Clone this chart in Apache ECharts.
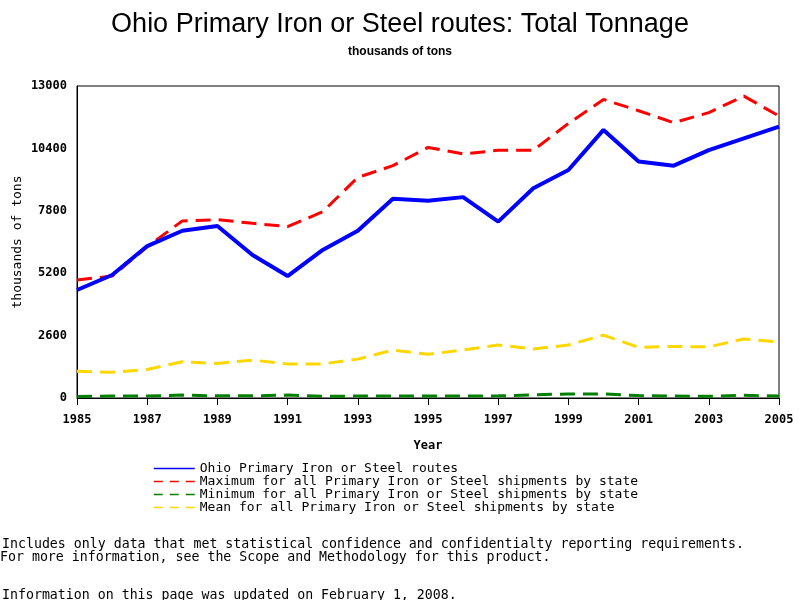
<!DOCTYPE html>
<html>
<head>
<meta charset="utf-8">
<script src="https://cdn.jsdelivr.net/npm/echarts@6/dist/echarts.min.js"></script>
<style>
html,body{margin:0;padding:0;background:#fff;}
#chart{width:800px;height:600px;}
</style>
</head>
<body>
<div id="chart"></div>
<script>
const years = ['1985','1986','1987','1988','1989','1990','1991','1992','1993','1994','1995','1996','1997','1998','1999','2000','2001','2002','2003','2004','2005'];
const ohio = [4500,5125,6330,6970,7170,5960,5080,6170,6970,8300,8220,8370,7350,8740,9500,11170,9850,9680,10330,10820,11310];
const maxState = [4920,5080,6300,7380,7430,7280,7140,7760,9190,9680,10440,10170,10320,10320,11440,12440,11970,11470,11890,12580,11750];
const minState = [60,80,80,120,90,90,120,70,80,80,80,80,90,130,170,170,100,80,70,110,80];
const meanState = [1110,1070,1190,1510,1440,1580,1420,1420,1620,2000,1820,2000,2210,2040,2210,2620,2110,2150,2130,2460,2330];

const names = [
  'Ohio Primary Iron or Steel routes',
  'Maximum for all Primary Iron or Steel shipments by state',
  'Minimum for all Primary Iron or Steel shipments by state',
  'Mean for all Primary Iron or Steel shipments by state'
];
const mono = '"DejaVu Sans Mono", "Liberation Mono", monospace';

const chart = echarts.init(document.getElementById('chart'));
chart.setOption({
  animation: false,
  backgroundColor: '#fff',
  title: [
    {text: 'Ohio Primary Iron or Steel routes: Total Tonnage', left: 'center', top: 6,
     textStyle: {fontFamily: '"Liberation Sans", Arial, sans-serif', fontSize: 27, fontWeight: 'normal', color: '#000'}},
    {text: 'thousands of tons', left: 'center', top: 41,
     textStyle: {fontFamily: '"Liberation Sans", Arial, sans-serif', fontSize: 12, fontWeight: 'bold', color: '#000'}}
  ],
  grid: {left: 77, right: 21, top: 86, bottom: 202, show: true, borderColor: '#000', borderWidth: 1, backgroundColor: 'transparent'},
  xAxis: {
    type: 'category', data: years, boundaryGap: false,
    name: 'Year', nameLocation: 'middle', nameGap: 42,
    nameTextStyle: {fontFamily: mono, fontSize: 12, fontWeight: 'bold', color: '#000'},
    axisLine: {lineStyle: {color: '#000', width: 1}},
    axisTick: {interval: 1, length: 7, lineStyle: {color: '#000'}},
    axisLabel: {interval: 1, margin: 16, fontFamily: mono, fontSize: 12, fontWeight: 'bold', color: '#000'},
    splitLine: {show: false}
  },
  yAxis: {
    type: 'value', min: 0, max: 13000, interval: 2600,
    name: 'thousands of tons', nameLocation: 'middle', nameGap: 53, nameMoveOverlap: false,
    nameTextStyle: {fontFamily: mono, fontSize: 13, color: '#000'},
    axisLine: {show: true, lineStyle: {color: '#000', width: 1}},
    axisTick: {show: false},
    axisLabel: {margin: 10, fontFamily: mono, fontSize: 12, fontWeight: 'bold', color: '#000',
      formatter: function (v) { return String(v); }},
    splitLine: {show: false}
  },
  legend: {
    orient: 'vertical', left: 153, top: 462, padding: 0, itemWidth: 41, itemHeight: 13, itemGap: 0,
    data: [
      {name: names[0], itemStyle: {color: 'rgba(0,0,0,0)', borderWidth: 0}, lineStyle: {width: 1.5, type: 'solid', color: '#0000FF', opacity: 1}},
      {name: names[1], itemStyle: {color: 'rgba(0,0,0,0)', borderWidth: 0}, lineStyle: {width: 1.5, type: [9,7], color: '#FF0000', opacity: 1}},
      {name: names[2], itemStyle: {color: 'rgba(0,0,0,0)', borderWidth: 0}, lineStyle: {width: 1.5, type: [9,7], color: '#008000', opacity: 1}},
      {name: names[3], itemStyle: {color: 'rgba(0,0,0,0)', borderWidth: 0}, lineStyle: {width: 1.5, type: [9,7], color: '#FFD700', opacity: 1}}
    ],
    textStyle: {fontFamily: mono, fontSize: 13, color: '#000'}
  },
  series: [
    {name: names[1], type: 'line', data: maxState, symbol: 'none', color: '#FF0000',
     lineStyle: {color: '#FF0000', width: 3, type: [15,8]}},
    {name: names[3], type: 'line', data: meanState, symbol: 'none', color: '#FFD700',
     lineStyle: {color: '#FFD700', width: 3, type: [15,8]}},
    {name: names[2], type: 'line', data: minState, symbol: 'none', color: '#008000',
     lineStyle: {color: '#008000', width: 3, type: [15,8]}},
    {name: names[0], type: 'line', data: ohio, symbol: 'none', color: '#0000FF',
     lineStyle: {color: '#0000FF', width: 4, type: 'solid'}, z: 5}
  ],
  graphic: [
    {type: 'text', left: 2, top: 538, style: {text: 'Includes only data that met statistical confidence and confidentialty reporting requirements.', font: '13.25px ' + mono, fill: '#000'}},
    {type: 'text', left: 0, top: 551, style: {text: 'For more information, see the Scope and Methodology for this product.', font: '13.25px ' + mono, fill: '#000'}},
    {type: 'text', left: 2, top: 589, style: {text: 'Information on this page was updated on February 1, 2008.', font: '13.25px ' + mono, fill: '#000'}}
  ]
});
</script>
</body>
</html>
